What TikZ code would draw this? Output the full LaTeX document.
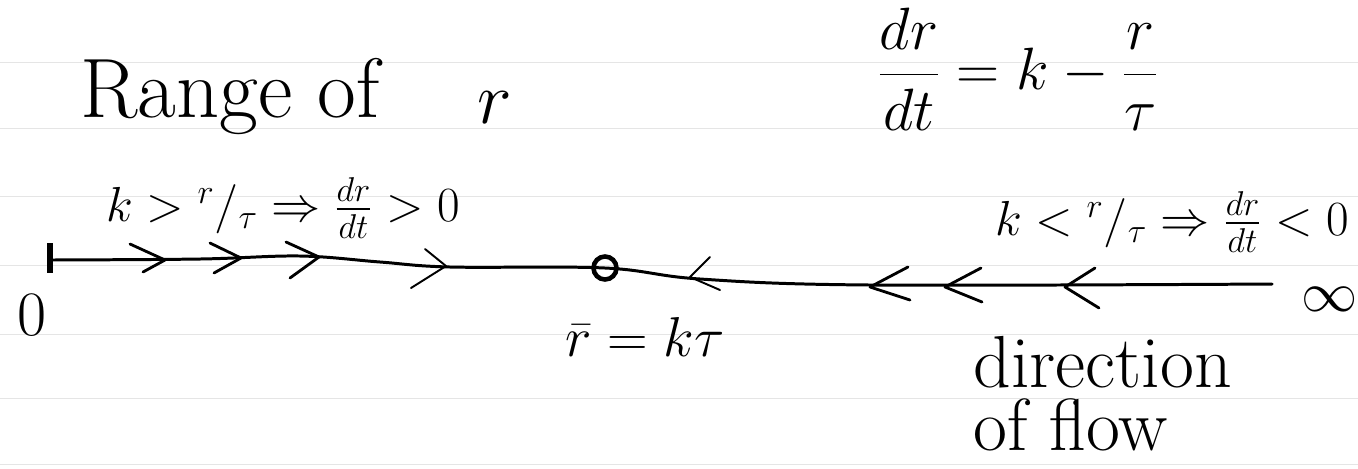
\RequirePackage{fix-cm}
\documentclass[tikz,border=0pt]{standalone}
\usepackage{amsmath}
\begin{document}
\begin{tikzpicture}[x=0.02cm,y=-0.02cm,
  pen/.style={line width=1.7pt, line cap=round, line join=round},
  chev/.style={line width=1.6pt, line cap=round, line join=round},
  ruled/.style={black!10, line width=0.5pt},
  lbl/.style={inner sep=0pt},
  big/.style={font=\fontsize{48}{52}\selectfont},
  mid/.style={font=\fontsize{28}{32}\selectfont},
  hand/.style={font=\fontsize{42}{36}\selectfont}]
\useasboundingbox (0,0) rectangle (1358,468);
% faint ruled paper lines
\foreach \yy in {62,128,196,265,334,398,464}
  \draw[ruled] (0,\yy) -- (1358,\yy);

% texts
\node[lbl, big, anchor=base west] (title) at (80,117) {Range of};
\node[lbl, font=\fontsize{42}{46}\selectfont, anchor=base] (rvar) at (495,123) {$r$};
\node[lbl, font=\fontsize{34}{40}\selectfont] (eq) at (1018,69) {$\dfrac{dr}{dt} = k - \dfrac{r}{\tau}$};
\node[lbl, mid] (lpos) at (283,208) {$k > {}^{r}/_{\tau} \Rightarrow \frac{dr}{dt} > 0$};
\node[lbl, mid] (rneg) at (1172,222) {$k < {}^{r}/_{\tau} \Rightarrow \frac{dr}{dt} < 0$};
\node[lbl, font=\fontsize{36}{40}\selectfont] (zero) at (32,315) {$0$};
\node[lbl, font=\fontsize{32}{36}\selectfont] (inf) at (1330,299) {$\infty$};
\node[lbl, font=\fontsize{32}{36}\selectfont] (rbar) at (645,337) {$\bar{r} = k\tau$};
\node[lbl, hand, align=left, anchor=north west] (flow) at (973,336) {direction\\of flow};

% axis
\coordinate (O) at (50,260);
\coordinate (E) at (1272,284);
\node[circle, draw, line width=2.6pt, minimum size=0.46cm, inner sep=0pt] (fp) at (605,268) {};
\draw[pen] plot[smooth, tension=0.6] coordinates {(O) (200,259) (300,256) (380,262) (450,267) (fp.center) (700,279) (870,285) (E)};
\draw[line width=3pt] (50,243) -- (50,273);

% right-pointing chevrons (dr/dt > 0)
\draw[chev] (130,244) -- (165,260) -- (143,272);
\draw[chev] (210,243) -- (241,258) -- (214,273);
\draw[chev] (286,242) -- (319,257) -- (290,278);
\draw[chev, line width=1.1pt] (425,249) -- (446,266) -- (411,288);
% left-pointing chevrons (dr/dt < 0)
\draw[chev, line width=1.1pt] (710,257) -- (690,277) -- (720,290);
\draw[chev] (908,267) -- (870,287) -- (910,300);
\draw[chev] (981,268) -- (945,287) -- (982,302);
\draw[chev] (1095,268) -- (1065,287) -- (1099,308);
\end{tikzpicture}
\end{document}
